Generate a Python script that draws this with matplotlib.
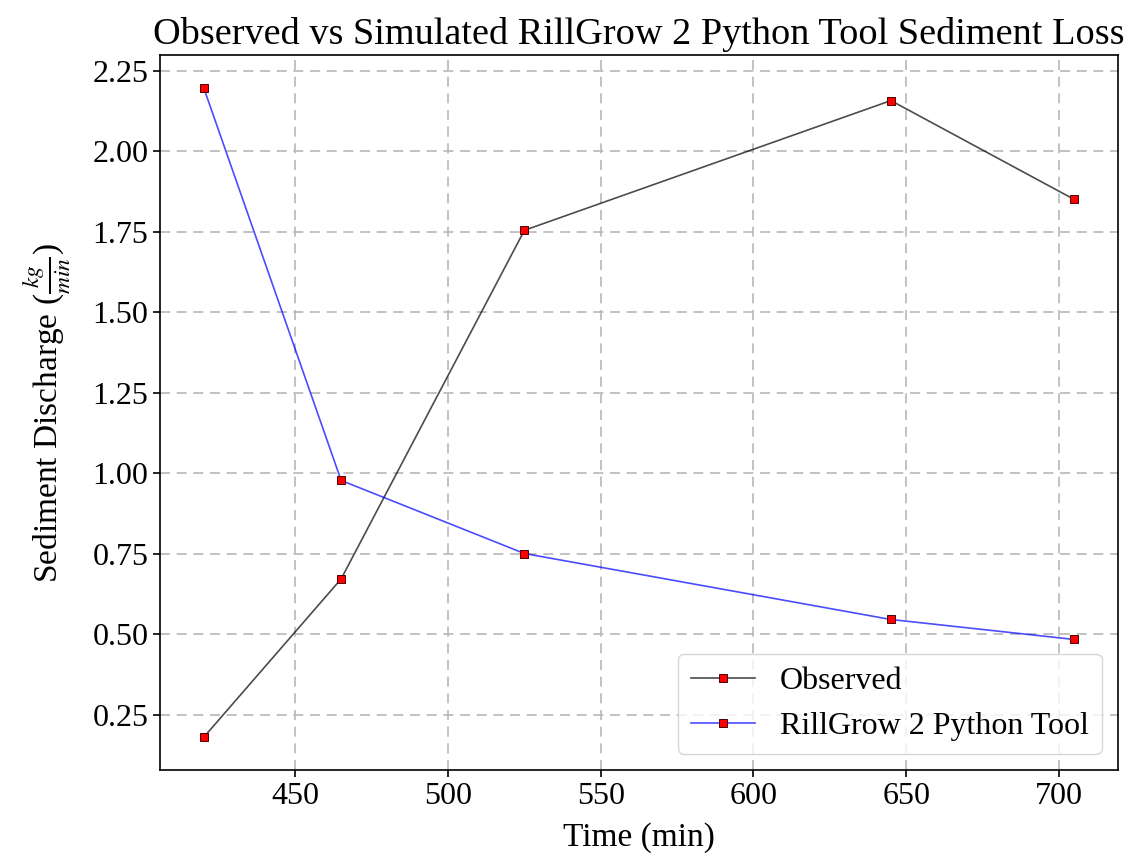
import numpy as np
import matplotlib.pyplot as plt

plt.rcParams['font.family'] = ['Liberation Serif', 'DejaVu Serif']
plt.rcParams['mathtext.fontset'] = 'stix'

time_min = [420, 465, 525, 645, 705]
observed = [0.18, 0.672, 1.755, 2.158, 1.851]
simulated = [2.198, 0.978, 0.751, 0.546, 0.484]

fig, ax = plt.subplots(figsize=(11.44, 8.63), dpi=100)
fig.subplots_adjust(left=0.140, right=0.977, top=0.936, bottom=0.108)

marker_style = dict(marker='s', markersize=6, markerfacecolor='red',
                    markeredgecolor='#4a0000', markeredgewidth=0.7)
ax.plot(time_min, observed, color=(0, 0, 0, 0.7), linewidth=1.2,
        label='Observed', **marker_style)
ax.plot(time_min, simulated, color=(0, 0, 1, 0.7), linewidth=1.2,
        label='RillGrow 2 Python Tool', **marker_style)

ax.grid(True, linestyle=(0, (6, 4)), color='#b8b8b8', linewidth=1.2)
ax.set_axisbelow(True)
ax.tick_params(labelsize=23, length=5, width=1.2)
for s in ax.spines.values():
    s.set_linewidth(1.2)
ax.set_xlabel('Time (min)', fontsize=24, labelpad=8)
ax.set_ylabel(r'Sediment Discharge ($\frac{kg}{min}$)', fontsize=24, labelpad=14)
ax.set_title('Observed vs Simulated RillGrow 2 Python Tool Sediment Loss',
             fontsize=27.5, pad=8)
ax.legend(loc='lower right', fontsize=23)

fig.savefig('out.png', dpi=100)
